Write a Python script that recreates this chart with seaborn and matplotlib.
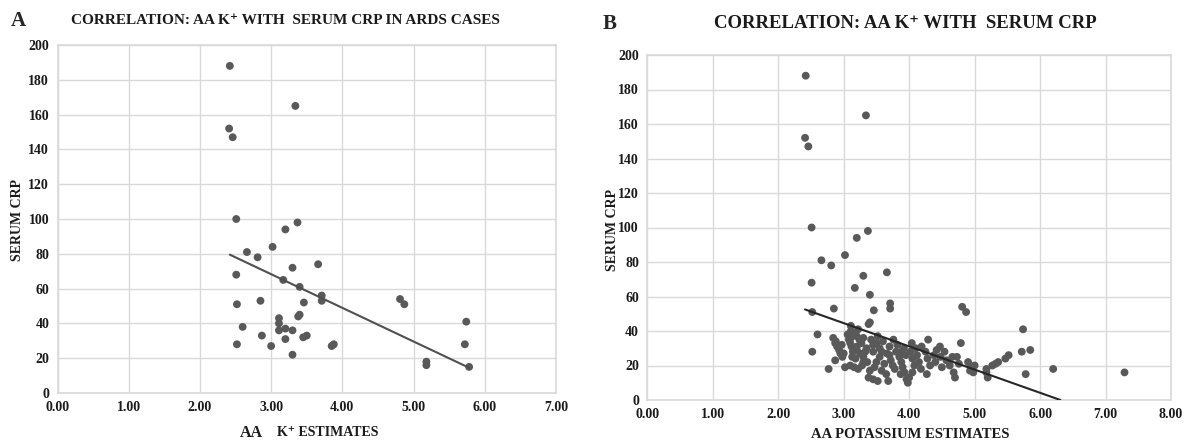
import numpy as np
import pandas as pd
import matplotlib
matplotlib.use("Agg")
import matplotlib.pyplot as plt
import seaborn as sns

# ---------------- data ----------------
# Panel A: ARDS cases (AA K+ vs serum CRP)
a_k = [2.42, 3.34, 2.41, 2.46, 2.51, 3.37, 3.20, 3.02, 2.66, 2.81,
       2.51, 3.30, 3.66, 3.17, 3.40, 3.71, 3.71, 3.46, 2.85, 2.52,
       4.81, 4.87, 3.40, 3.38, 3.11, 3.11, 2.60, 3.11, 3.20, 3.30,
       5.74, 2.87, 3.20, 3.45, 3.50, 2.52, 3.00, 3.85, 3.88, 5.72,
       3.30, 5.18, 5.18, 5.78]
a_crp = [188, 165, 152, 147, 100, 98, 94, 84, 81, 78,
         68, 72, 74, 65, 61, 56, 53, 52, 53, 51,
         54, 51, 45, 44, 43, 40, 38, 36, 37, 36,
         41, 33, 31, 32, 33, 28, 27, 27, 28, 28,
         22, 18, 16, 15]

# Panel B: additional (non-ARDS) cases, plotted together with panel A cases
b_extra_k = [2.77, 2.87, 2.84, 2.88, 2.90, 2.93, 2.95, 2.98, 3.02, 2.97,
             3.06, 3.08, 3.10, 3.12, 3.14, 3.13, 3.10, 3.16, 3.22, 3.24,
             3.27, 3.20, 3.25, 3.30, 3.28, 3.16, 3.22, 3.35, 3.33, 3.18,
             3.38, 3.45, 3.52, 3.40, 3.47, 3.50, 3.55, 3.45, 3.55, 3.60,
             3.58, 3.62, 3.65, 3.68, 3.42, 3.52, 3.58, 3.36,
             3.70, 3.72, 3.75, 3.78, 3.80, 3.85, 3.88, 3.90, 3.93, 3.96,
             3.98, 3.92, 3.95, 3.82, 3.70, 3.76, 3.87, 3.66,
             4.02, 4.04, 4.05, 4.08, 4.10, 4.12, 4.15, 4.18, 4.19, 4.25,
             4.28, 4.29, 4.32, 4.27, 4.38, 4.40, 4.42, 4.47, 4.48, 4.50,
             4.05, 4.00, 4.54, 4.57,
             4.62, 4.66, 4.68, 4.73, 4.70, 4.79, 4.76, 4.90, 4.96, 4.93,
             5.00, 4.98, 5.20, 5.27, 5.32, 5.36, 5.47, 5.52, 5.85, 6.20,
             7.29]
b_extra_crp = [18, 23, 36, 34, 31, 29, 27, 25, 19, 32,
               38, 35, 33, 31, 28, 25, 20, 19, 18, 35,
               33, 29, 27, 25, 20, 39, 41, 30, 28, 24,
               13, 12, 11, 17, 19, 22, 25, 28, 30, 34,
               28, 21, 15, 11, 35, 37, 17, 22,
               26, 23, 20, 18, 28, 25, 22, 19, 16, 12,
               10, 30, 26, 32, 31, 35, 15, 27,
               28, 33, 24, 20, 30, 26, 22, 18, 31, 28,
               24, 35, 20, 15, 26, 22, 29, 31, 25, 19,
               16, 13, 28, 23,
               20, 25, 16, 25, 13, 33, 21, 22, 19, 17,
               20, 16, 13, 20, 21, 22, 24, 26, 29, 18,
               16]

# Linear trend lines as drawn in the figure (start / end)
trend_a_k = [2.42, 5.78]
trend_a_crp = [79.5, 14.5]
trend_b_k = [2.41, 6.31]
trend_b_crp = [52.5, 0.0]

a_xticks = [0, 1, 2, 3, 4, 5, 6, 7]
b_xticks = [0, 1, 2, 3, 4, 5, 6, 7, 8]
yticks = [0, 20, 40, 60, 80, 100, 120, 140, 160, 180, 200]

title_a = "CORRELATION: AA K\u207a WITH  SERUM CRP IN ARDS CASES"
title_b = "CORRELATION: AA K\u207a WITH  SERUM CRP"
ylabel = "SERUM CRP"
xlabel_b = "AA POTASSIUM ESTIMATES"

# ---------------- style ----------------
sns.set_theme(style="white")
plt.rcParams["font.family"] = ["Liberation Serif", "DejaVu Serif"]
plt.rcParams["font.weight"] = "bold"

df_a = pd.DataFrame({"k": a_k, "crp": a_crp})
df_b = pd.DataFrame({"k": list(a_k) + list(b_extra_k),
                     "crp": list(a_crp) + list(b_extra_crp)})
df_ta = pd.DataFrame({"k": trend_a_k, "crp": trend_a_crp})
df_tb = pd.DataFrame({"k": trend_b_k, "crp": trend_b_crp})

fig = plt.figure(figsize=(11.92, 4.45), dpi=100)
ax_a = fig.add_axes([57.5 / 1192, 1 - 393 / 445, (556 - 57.5) / 1192, (393 - 45) / 445])
ax_b = fig.add_axes([647.3 / 1192, 1 - 400 / 445, (1171 - 647.3) / 1192, (400 - 55) / 445])

grid_c = "#d9d9d9"
pt_c = "#595959"


def style_axes(ax, xticks):
    ax.set_xlim(xticks[0], xticks[-1])
    ax.set_ylim(0, 200)
    ax.set_xticks(xticks)
    ax.set_yticks(yticks)
    ax.set_xticklabels([f"{v:.2f}" for v in xticks])
    ax.set_yticklabels([str(v) for v in yticks])
    ax.grid(True, color=grid_c, linewidth=1.0)
    ax.set_axisbelow(True)
    for s in ax.spines.values():
        s.set_color(grid_c)
        s.set_linewidth(1.2)
    ax.tick_params(length=0, labelsize=10, pad=6, colors="#1a1a1a")
    for lab in ax.get_xticklabels() + ax.get_yticklabels():
        lab.set_fontweight("bold")
    ax.set_xlabel("")
    ax.set_ylabel("")


sns.scatterplot(data=df_a, x="k", y="crp", ax=ax_a, color=pt_c, s=32,
                edgecolor="none", zorder=3)
sns.lineplot(data=df_ta, x="k", y="crp", ax=ax_a, color="#505050",
             linewidth=1.5, zorder=4)
style_axes(ax_a, a_xticks)

sns.scatterplot(data=df_b, x="k", y="crp", ax=ax_b, color=pt_c, s=32,
                edgecolor="none", zorder=3)
sns.lineplot(data=df_tb, x="k", y="crp", ax=ax_b, color="#262626",
             linewidth=1.5, zorder=4)
style_axes(ax_b, b_xticks)

# ---------------- texts ----------------
fig.text(18 / 1192, 1 - 21 / 445, "A", fontsize=15, fontweight="bold",
         ha="center", va="center")
fig.text(71 / 1192, 1 - 21 / 445, title_a, fontsize=11, fontweight="bold",
         ha="left", va="center", color="#1a1a1a")
fig.text(610 / 1192, 1 - 24 / 445, "B", fontsize=15, fontweight="bold",
         ha="center", va="center")
fig.text(905 / 1192, 1 - 24 / 445, title_b, fontsize=13.5, fontweight="bold",
         ha="center", va="center", color="#1a1a1a")

fig.text(18 / 1192, 1 - 220 / 445, ylabel, rotation=90, fontsize=10,
         fontweight="bold", ha="center", va="center", color="#1a1a1a")
fig.text(613 / 1192, 1 - 230 / 445, ylabel, rotation=90, fontsize=10,
         fontweight="bold", ha="center", va="center", color="#1a1a1a")

fig.text(251 / 1192, 1 - 433 / 445, "AA", fontsize=11.5, fontweight="bold",
         ha="center", va="center", color="#1a1a1a")
fig.text(277 / 1192, 1 - 432 / 445, "K\u207a ESTIMATES", fontsize=10,
         fontweight="bold", ha="left", va="center", color="#1a1a1a")
fig.text(910 / 1192, 1 - 434 / 445, xlabel_b, fontsize=10.5,
         fontweight="bold", ha="center", va="center", color="#1a1a1a")

fig.savefig("out.png", dpi=100)
